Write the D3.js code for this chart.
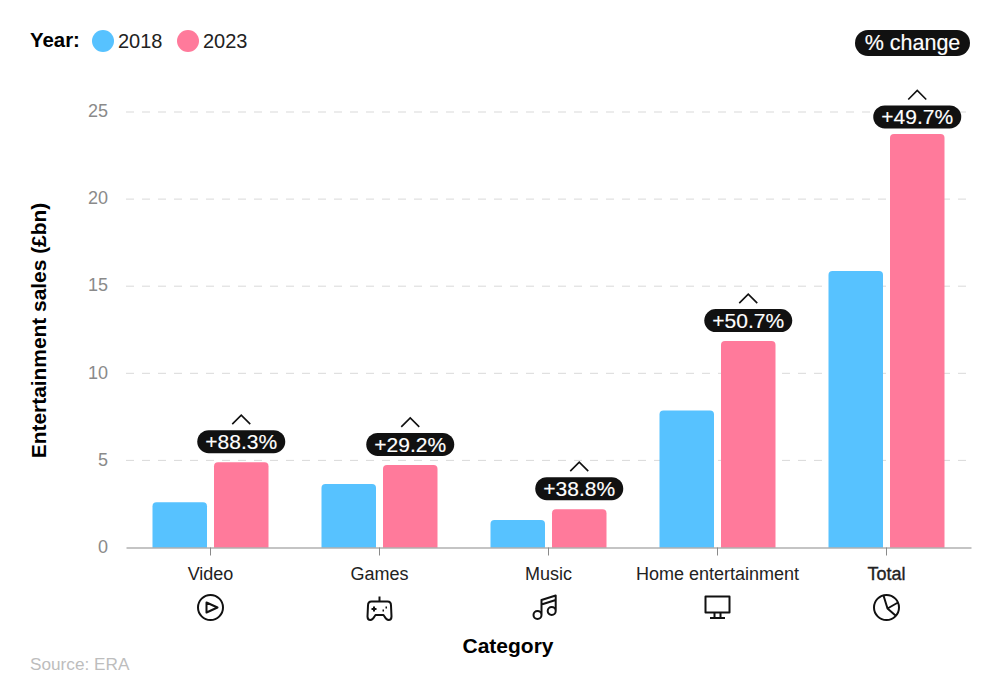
<!DOCTYPE html>
<html>
<head>
<meta charset="utf-8">
<script src="https://cdn.jsdelivr.net/npm/d3@7"></script>
<style>
  html, body { margin: 0; padding: 0; background: #fff; }
  svg { display: block; font-family: "Liberation Sans", Arial, sans-serif; }
</style>
</head>
<body>
<svg id="chart" width="1000" height="700"></svg>
<script>
const categories = ['Video', 'Games', 'Music', 'Home entertainment', 'Total'];
const years = ['2018', '2023'];
const sales2018 = [2.6, 3.65, 1.58, 7.86, 15.87];
const sales2023 = [4.9, 4.74, 2.2, 11.85, 23.74];
const changeLabels = ['+88.3%', '+29.2%', '+38.8%', '+50.7%', '+49.7%'];
const yTicks = [0, 5, 10, 15, 20, 25];

const colors = { 2018: '#57c2ff', 2023: '#ff7a9b' };
const ink = '#111';

const svg = d3.select('#chart');

const x = d3.scaleBand().domain(categories).range([126, 971]);
const y = d3.scaleLinear().domain([0, 25]).range([547.5, 112]);
const barWidth = 54.5;
const barGap = 7;

// grid and y labels
const yAxis = d3.axisLeft(y).tickValues(yTicks).tickSize(0).tickPadding(18);
svg.append('g')
  .attr('transform', 'translate(126,-1)')
  .call(yAxis)
  .call((g) => g.select('.domain').remove())
  .call((g) =>
    g.selectAll('text')
      .attr('fill', '#8a8a8a')
      .style('font-size', '18px')
      .style('font-family', 'inherit')
  );

svg.append('g')
  .selectAll('line')
  .data(yTicks.slice(1))
  .join('line')
  .attr('x1', 126)
  .attr('x2', 968)
  .attr('y1', (d) => y(d))
  .attr('y2', (d) => y(d))
  .attr('stroke', '#d9d9d9')
  .attr('stroke-width', 1)
  .attr('stroke-dasharray', '8 8');

// rounded only on the top corners
const barPath = (x0, w, top, bottom, r = 4) => {
  const p = d3.path();
  p.moveTo(x0, bottom);
  p.lineTo(x0, top + r);
  p.quadraticCurveTo(x0, top, x0 + r, top);
  p.lineTo(x0 + w - r, top);
  p.quadraticCurveTo(x0 + w, top, x0 + w, top + r);
  p.lineTo(x0 + w, bottom);
  p.closePath();
  return p.toString();
};

const center = (c) => x(c) + x.bandwidth() / 2;

[sales2018, sales2023].forEach((values, s) => {
  svg.append('g')
    .selectAll('path')
    .data(categories)
    .join('path')
    .attr('fill', colors[years[s]])
    .attr('d', (c, i) => {
      const left = s === 0 ? center(c) - barGap / 2 - barWidth : center(c) + barGap / 2;
      return barPath(left, barWidth, y(values[i]), y(0));
    });
});

// x axis
const xAxis = d3.axisBottom(x).tickSize(8).tickPadding(11.5).tickSizeOuter(0);
svg.append('g')
  .attr('transform', `translate(0,${y(0)})`)
  .call(xAxis)
  .call((g) => g.select('.domain').attr('stroke', '#8a8a8a').attr('stroke-width', 1.2))
  .call((g) => g.selectAll('.tick line').attr('stroke', '#8a8a8a'))
  .call((g) =>
    g.selectAll('text')
      .attr('fill', '#222')
      .style('font-size', '18px')
      .style('font-family', 'inherit')
      .attr('stroke', (d) => (d === 'Total' ? '#222' : null))
      .attr('stroke-width', (d) => (d === 'Total' ? 0.35 : null))
  );

// black pills with the change figure and a chevron over each pink bar
const pillW = 88;
const pillH = 23;
// the Total pill sits closer to its bar because of the top of the chart
const pillOffset = (c) => (c === 'Total' ? 17 : 20.5);
const pills = svg.append('g')
  .selectAll('g')
  .data(categories)
  .join('g')
  .attr('transform', (c, i) => `translate(${center(c) + barGap / 2 + barWidth / 2},${y(sales2023[i]) - pillOffset(c)})`);

pills.append('rect')
  .attr('x', -pillW / 2)
  .attr('y', -pillH / 2)
  .attr('width', pillW)
  .attr('height', pillH)
  .attr('rx', 11.5)
  .attr('fill', ink);

pills.append('text')
  .attr('text-anchor', 'middle')
  .attr('y', 7.5)
  .attr('fill', '#fff')
  .attr('stroke', '#fff')
  .attr('stroke-width', 0.15)
  .style('font-size', '21px')
  .text((c, i) => changeLabels[i]);

pills.append('path')
  .attr('d', 'M-9,-17.5 L0,-26.5 L9,-17.5')
  .attr('fill', 'none')
  .attr('stroke', ink)
  .attr('stroke-width', 1.6);

// % change key
svg.append('rect')
  .attr('x', 855)
  .attr('y', 30)
  .attr('width', 115)
  .attr('height', 26)
  .attr('rx', 13)
  .attr('fill', ink);
svg.append('text')
  .attr('x', 912.5)
  .attr('y', 49.5)
  .attr('text-anchor', 'middle')
  .attr('fill', '#fff')
  .attr('stroke', '#fff')
  .attr('stroke-width', 0.15)
  .style('font-size', '21.5px')
  .text('% change');

// legend
svg.append('text')
  .attr('x', 30)
  .attr('y', 47)
  .attr('fill', '#000')
  .style('font-size', '20.4px')
  .style('font-weight', 'bold')
  .text('Year:');

const legendX = d3.scaleOrdinal().domain(years).range([103, 188]);
const legend = svg.append('g')
  .selectAll('g')
  .data(years)
  .join('g')
  .attr('transform', (d) => `translate(${legendX(d)},41)`);
legend.append('circle').attr('r', 11).attr('fill', (d) => colors[d]);
legend.append('text')
  .attr('x', 15)
  .attr('y', 6.5)
  .attr('fill', '#222')
  .style('font-size', '20px')
  .text((d) => d);

// category icons, drawn around a local origin
const icons = [
  'M0,-12.5 A12.5,12.5 0 1 1 0,12.5 A12.5,12.5 0 1 1 0,-12.5 Z M-4,-5 L7,0 L-4,5 Z',
  'M0,-11 L0,-6 M-8,-6 L8,-6 Q11.5,-6 11.5,-2 L12,9 Q12,12.5 9,12.5 Q7,12.5 5,9 L4,7.5 L-4,7.5 L-5,9 Q-7,12.5 -9,12.5 Q-12,12.5 -12,9 L-11.5,-2 Q-11.5,-6 -8,-6 Z M-8,1.5 L-3,1.5 M-5.5,-1 L-5.5,4 M3,3 L4.5,3 M6,0 L7.5,0',
  'M-15,7.5 a4,4 0 1 0 8,0 a4,4 0 1 0 -8,0 M-0.8,3.5 a4,4 0 1 0 8,0 a4,4 0 1 0 -8,0 M-7,7.5 L-7,-7.5 L7.2,-12 L7.2,3.5 M-7,-3 L7.2,-7.5',
  'M-12,-11 L12,-11 L12,5 L-12,5 Z M-3,5 L-3,10.5 M3,5 L3,10.5 M-7.5,10.5 L7.5,10.5',
  'M0,-12.5 A12.5,12.5 0 1 1 0,12.5 A12.5,12.5 0 1 1 0,-12.5 Z M-3,-12 L1,1 L11.5,-5 M1,1 L9,8'
];

svg.append('g')
  .selectAll('path')
  .data(categories)
  .join('path')
  .attr('transform', (c) => `translate(${center(c)},607.5)`)
  .attr('d', (c, i) => icons[i])
  .attr('fill', 'none')
  .attr('stroke', ink)
  .attr('stroke-width', 2)
  .attr('stroke-linejoin', 'round');

// axis titles and source
svg.append('text')
  .attr('x', 508)
  .attr('y', 653)
  .attr('text-anchor', 'middle')
  .attr('fill', '#000')
  .style('font-size', '21px')
  .style('font-weight', 'bold')
  .text('Category');

svg.append('text')
  .attr('transform', 'translate(46,330.5) rotate(-90)')
  .attr('text-anchor', 'middle')
  .attr('fill', '#000')
  .style('font-size', '20.9px')
  .style('font-weight', 'bold')
  .text('Entertainment sales (£bn)');

svg.append('text')
  .attr('x', 30)
  .attr('y', 670)
  .attr('fill', '#bdbdbd')
  .style('font-size', '17.2px')
  .text('Source: ERA');
</script>
</body>
</html>
